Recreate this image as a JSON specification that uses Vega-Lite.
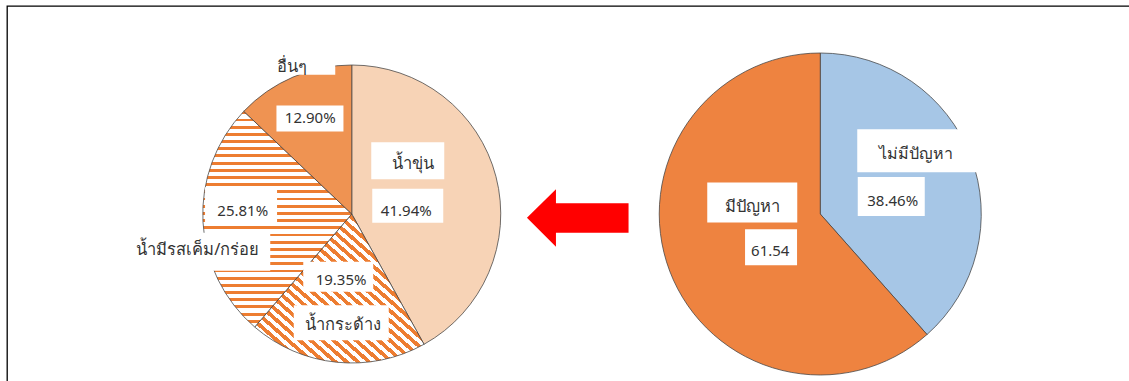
{
"$schema": "https://vega.github.io/schema/vega-lite/v6.json",
"width": 1158, "height": 416,
"autosize": "none",
"padding": {"left": 7, "top": 6, "right": 0, "bottom": 0},
"background": "white",
"config": {"view": {"stroke": "#000000", "strokeWidth": 1.3}},
"datasets": {
 "left": [
  {"chart": "left", "k": 1, "name": "น้ำขุ่น", "value": 41.94, "label": "41.94%"},
  {"chart": "left", "k": 2, "name": "น้ำกระด้าง", "value": 19.35, "label": "19.35%"},
  {"chart": "left", "k": 3, "name": "น้ำมีรสเค็ม/กร่อย", "value": 25.81, "label": "25.81%"},
  {"chart": "left", "k": 4, "name": "อื่นๆ", "value": 12.90, "label": "12.90%"}
 ],
 "right": [
  {"chart": "right", "k": 1, "name": "ไม่มีปัญหา", "value": 38.46, "label": "38.46%"},
  {"chart": "right", "k": 2, "name": "มีปัญหา", "value": 61.54, "label": "61.54"}
 ],
 "arrow": [{"chart": "arrow"}]
},
"layer": [
 {"data": {"name": "left"},
  "mark": {"type": "arc", "radius": 149, "stroke": "#404040", "strokeWidth": 0.75},
  "encoding": {
   "x": {"field": "chart", "type": "nominal", "scale": {"type": "point", "domain": ["left", "arrow", "right"], "range": [344.75, 813.25], "padding": 0}, "axis": null},
   "theta": {"field": "value", "type": "quantitative", "stack": true},
   "order": {"field": "k", "type": "quantitative"},
   "fill": {"condition": [
     {"test": "datum.k===2", "value": {"gradient": "linear", "x1": 0, "y1": 1, "x2": 1, "y2": 0, "stops": [
{"offset":0,"color":"#ed7d31"},{"offset":0.0167,"color":"#ed7d31"},{"offset":0.0167,"color":"#ffffff"},{"offset":0.0333,"color":"#ffffff"},
{"offset":0.0333,"color":"#ed7d31"},{"offset":0.05,"color":"#ed7d31"},{"offset":0.05,"color":"#ffffff"},{"offset":0.0667,"color":"#ffffff"},
{"offset":0.0667,"color":"#ed7d31"},{"offset":0.0833,"color":"#ed7d31"},{"offset":0.0833,"color":"#ffffff"},{"offset":0.1,"color":"#ffffff"},
{"offset":0.1,"color":"#ed7d31"},{"offset":0.1167,"color":"#ed7d31"},{"offset":0.1167,"color":"#ffffff"},{"offset":0.1333,"color":"#ffffff"},
{"offset":0.1333,"color":"#ed7d31"},{"offset":0.15,"color":"#ed7d31"},{"offset":0.15,"color":"#ffffff"},{"offset":0.1667,"color":"#ffffff"},
{"offset":0.1667,"color":"#ed7d31"},{"offset":0.1833,"color":"#ed7d31"},{"offset":0.1833,"color":"#ffffff"},{"offset":0.2,"color":"#ffffff"},
{"offset":0.2,"color":"#ed7d31"},{"offset":0.2167,"color":"#ed7d31"},{"offset":0.2167,"color":"#ffffff"},{"offset":0.2333,"color":"#ffffff"},
{"offset":0.2333,"color":"#ed7d31"},{"offset":0.25,"color":"#ed7d31"},{"offset":0.25,"color":"#ffffff"},{"offset":0.2667,"color":"#ffffff"},
{"offset":0.2667,"color":"#ed7d31"},{"offset":0.2833,"color":"#ed7d31"},{"offset":0.2833,"color":"#ffffff"},{"offset":0.3,"color":"#ffffff"},
{"offset":0.3,"color":"#ed7d31"},{"offset":0.3167,"color":"#ed7d31"},{"offset":0.3167,"color":"#ffffff"},{"offset":0.3333,"color":"#ffffff"},
{"offset":0.3333,"color":"#ed7d31"},{"offset":0.35,"color":"#ed7d31"},{"offset":0.35,"color":"#ffffff"},{"offset":0.3667,"color":"#ffffff"},
{"offset":0.3667,"color":"#ed7d31"},{"offset":0.3833,"color":"#ed7d31"},{"offset":0.3833,"color":"#ffffff"},{"offset":0.4,"color":"#ffffff"},
{"offset":0.4,"color":"#ed7d31"},{"offset":0.4167,"color":"#ed7d31"},{"offset":0.4167,"color":"#ffffff"},{"offset":0.4333,"color":"#ffffff"},
{"offset":0.4333,"color":"#ed7d31"},{"offset":0.45,"color":"#ed7d31"},{"offset":0.45,"color":"#ffffff"},{"offset":0.4667,"color":"#ffffff"},
{"offset":0.4667,"color":"#ed7d31"},{"offset":0.4833,"color":"#ed7d31"},{"offset":0.4833,"color":"#ffffff"},{"offset":0.5,"color":"#ffffff"},
{"offset":0.5,"color":"#ed7d31"},{"offset":0.5167,"color":"#ed7d31"},{"offset":0.5167,"color":"#ffffff"},{"offset":0.5333,"color":"#ffffff"},
{"offset":0.5333,"color":"#ed7d31"},{"offset":0.55,"color":"#ed7d31"},{"offset":0.55,"color":"#ffffff"},{"offset":0.5667,"color":"#ffffff"},
{"offset":0.5667,"color":"#ed7d31"},{"offset":0.5833,"color":"#ed7d31"},{"offset":0.5833,"color":"#ffffff"},{"offset":0.6,"color":"#ffffff"},
{"offset":0.6,"color":"#ed7d31"},{"offset":0.6167,"color":"#ed7d31"},{"offset":0.6167,"color":"#ffffff"},{"offset":0.6333,"color":"#ffffff"},
{"offset":0.6333,"color":"#ed7d31"},{"offset":0.65,"color":"#ed7d31"},{"offset":0.65,"color":"#ffffff"},{"offset":0.6667,"color":"#ffffff"},
{"offset":0.6667,"color":"#ed7d31"},{"offset":0.6833,"color":"#ed7d31"},{"offset":0.6833,"color":"#ffffff"},{"offset":0.7,"color":"#ffffff"},
{"offset":0.7,"color":"#ed7d31"},{"offset":0.7167,"color":"#ed7d31"},{"offset":0.7167,"color":"#ffffff"},{"offset":0.7333,"color":"#ffffff"},
{"offset":0.7333,"color":"#ed7d31"},{"offset":0.75,"color":"#ed7d31"},{"offset":0.75,"color":"#ffffff"},{"offset":0.7667,"color":"#ffffff"},
{"offset":0.7667,"color":"#ed7d31"},{"offset":0.7833,"color":"#ed7d31"},{"offset":0.7833,"color":"#ffffff"},{"offset":0.8,"color":"#ffffff"},
{"offset":0.8,"color":"#ed7d31"},{"offset":0.8167,"color":"#ed7d31"},{"offset":0.8167,"color":"#ffffff"},{"offset":0.8333,"color":"#ffffff"},
{"offset":0.8333,"color":"#ed7d31"},{"offset":0.85,"color":"#ed7d31"},{"offset":0.85,"color":"#ffffff"},{"offset":0.8667,"color":"#ffffff"},
{"offset":0.8667,"color":"#ed7d31"},{"offset":0.8833,"color":"#ed7d31"},{"offset":0.8833,"color":"#ffffff"},{"offset":0.9,"color":"#ffffff"},
{"offset":0.9,"color":"#ed7d31"},{"offset":0.9167,"color":"#ed7d31"},{"offset":0.9167,"color":"#ffffff"},{"offset":0.9333,"color":"#ffffff"},
{"offset":0.9333,"color":"#ed7d31"},{"offset":0.95,"color":"#ed7d31"},{"offset":0.95,"color":"#ffffff"},{"offset":0.9667,"color":"#ffffff"},
{"offset":0.9667,"color":"#ed7d31"},{"offset":0.9833,"color":"#ed7d31"},{"offset":0.9833,"color":"#ffffff"},{"offset":1,"color":"#ffffff"}
     ]}},
     {"test": "datum.k===3", "value": {"gradient": "linear", "x1": 0, "y1": 0, "x2": 0, "y2": 1, "stops": [
{"offset":0,"color":"#ed7d31"},{"offset":0.0133,"color":"#ed7d31"},{"offset":0.0133,"color":"#ffffff"},{"offset":0.0333,"color":"#ffffff"},
{"offset":0.0333,"color":"#ed7d31"},{"offset":0.0467,"color":"#ed7d31"},{"offset":0.0467,"color":"#ffffff"},{"offset":0.0667,"color":"#ffffff"},
{"offset":0.0667,"color":"#ed7d31"},{"offset":0.08,"color":"#ed7d31"},{"offset":0.08,"color":"#ffffff"},{"offset":0.1,"color":"#ffffff"},
{"offset":0.1,"color":"#ed7d31"},{"offset":0.1133,"color":"#ed7d31"},{"offset":0.1133,"color":"#ffffff"},{"offset":0.1333,"color":"#ffffff"},
{"offset":0.1333,"color":"#ed7d31"},{"offset":0.1467,"color":"#ed7d31"},{"offset":0.1467,"color":"#ffffff"},{"offset":0.1667,"color":"#ffffff"},
{"offset":0.1667,"color":"#ed7d31"},{"offset":0.18,"color":"#ed7d31"},{"offset":0.18,"color":"#ffffff"},{"offset":0.2,"color":"#ffffff"},
{"offset":0.2,"color":"#ed7d31"},{"offset":0.2133,"color":"#ed7d31"},{"offset":0.2133,"color":"#ffffff"},{"offset":0.2333,"color":"#ffffff"},
{"offset":0.2333,"color":"#ed7d31"},{"offset":0.2467,"color":"#ed7d31"},{"offset":0.2467,"color":"#ffffff"},{"offset":0.2667,"color":"#ffffff"},
{"offset":0.2667,"color":"#ed7d31"},{"offset":0.28,"color":"#ed7d31"},{"offset":0.28,"color":"#ffffff"},{"offset":0.3,"color":"#ffffff"},
{"offset":0.3,"color":"#ed7d31"},{"offset":0.3133,"color":"#ed7d31"},{"offset":0.3133,"color":"#ffffff"},{"offset":0.3333,"color":"#ffffff"},
{"offset":0.3333,"color":"#ed7d31"},{"offset":0.3467,"color":"#ed7d31"},{"offset":0.3467,"color":"#ffffff"},{"offset":0.3667,"color":"#ffffff"},
{"offset":0.3667,"color":"#ed7d31"},{"offset":0.38,"color":"#ed7d31"},{"offset":0.38,"color":"#ffffff"},{"offset":0.4,"color":"#ffffff"},
{"offset":0.4,"color":"#ed7d31"},{"offset":0.4133,"color":"#ed7d31"},{"offset":0.4133,"color":"#ffffff"},{"offset":0.4333,"color":"#ffffff"},
{"offset":0.4333,"color":"#ed7d31"},{"offset":0.4467,"color":"#ed7d31"},{"offset":0.4467,"color":"#ffffff"},{"offset":0.4667,"color":"#ffffff"},
{"offset":0.4667,"color":"#ed7d31"},{"offset":0.48,"color":"#ed7d31"},{"offset":0.48,"color":"#ffffff"},{"offset":0.5,"color":"#ffffff"},
{"offset":0.5,"color":"#ed7d31"},{"offset":0.5133,"color":"#ed7d31"},{"offset":0.5133,"color":"#ffffff"},{"offset":0.5333,"color":"#ffffff"},
{"offset":0.5333,"color":"#ed7d31"},{"offset":0.5467,"color":"#ed7d31"},{"offset":0.5467,"color":"#ffffff"},{"offset":0.5667,"color":"#ffffff"},
{"offset":0.5667,"color":"#ed7d31"},{"offset":0.58,"color":"#ed7d31"},{"offset":0.58,"color":"#ffffff"},{"offset":0.6,"color":"#ffffff"},
{"offset":0.6,"color":"#ed7d31"},{"offset":0.6133,"color":"#ed7d31"},{"offset":0.6133,"color":"#ffffff"},{"offset":0.6333,"color":"#ffffff"},
{"offset":0.6333,"color":"#ed7d31"},{"offset":0.6467,"color":"#ed7d31"},{"offset":0.6467,"color":"#ffffff"},{"offset":0.6667,"color":"#ffffff"},
{"offset":0.6667,"color":"#ed7d31"},{"offset":0.68,"color":"#ed7d31"},{"offset":0.68,"color":"#ffffff"},{"offset":0.7,"color":"#ffffff"},
{"offset":0.7,"color":"#ed7d31"},{"offset":0.7133,"color":"#ed7d31"},{"offset":0.7133,"color":"#ffffff"},{"offset":0.7333,"color":"#ffffff"},
{"offset":0.7333,"color":"#ed7d31"},{"offset":0.7467,"color":"#ed7d31"},{"offset":0.7467,"color":"#ffffff"},{"offset":0.7667,"color":"#ffffff"},
{"offset":0.7667,"color":"#ed7d31"},{"offset":0.78,"color":"#ed7d31"},{"offset":0.78,"color":"#ffffff"},{"offset":0.8,"color":"#ffffff"},
{"offset":0.8,"color":"#ed7d31"},{"offset":0.8133,"color":"#ed7d31"},{"offset":0.8133,"color":"#ffffff"},{"offset":0.8333,"color":"#ffffff"},
{"offset":0.8333,"color":"#ed7d31"},{"offset":0.8467,"color":"#ed7d31"},{"offset":0.8467,"color":"#ffffff"},{"offset":0.8667,"color":"#ffffff"},
{"offset":0.8667,"color":"#ed7d31"},{"offset":0.88,"color":"#ed7d31"},{"offset":0.88,"color":"#ffffff"},{"offset":0.9,"color":"#ffffff"},
{"offset":0.9,"color":"#ed7d31"},{"offset":0.9133,"color":"#ed7d31"},{"offset":0.9133,"color":"#ffffff"},{"offset":0.9333,"color":"#ffffff"},
{"offset":0.9333,"color":"#ed7d31"},{"offset":0.9467,"color":"#ed7d31"},{"offset":0.9467,"color":"#ffffff"},{"offset":0.9667,"color":"#ffffff"},
{"offset":0.9667,"color":"#ed7d31"},{"offset":0.98,"color":"#ed7d31"},{"offset":0.98,"color":"#ffffff"},{"offset":1,"color":"#ffffff"}
     ]}}
    ],
    "field": "name", "type": "nominal",
    "scale": {"domain": ["น้ำขุ่น", "น้ำกระด้าง", "น้ำมีรสเค็ม/กร่อย", "อื่นๆ", "ไม่มีปัญหา", "มีปัญหา"], "range": ["#f7d3b6", "#f3a46c", "#f09a5c", "#ef9352", "#a6c6e6", "#ee8340"]},
    "legend": null}
  }
 },
 {"data": {"name": "right"},
  "mark": {"type": "arc", "radius": 161, "stroke": "#404040", "strokeWidth": 0.75},
  "encoding": {
   "x": {"field": "chart", "type": "nominal", "scale": {"type": "point", "domain": ["left", "arrow", "right"], "range": [344.75, 813.25], "padding": 0}, "axis": null},
   "theta": {"field": "value", "type": "quantitative", "stack": true},
   "order": {"field": "k", "type": "quantitative"},
   "fill": {"field": "name", "type": "nominal",
    "scale": {"domain": ["น้ำขุ่น", "น้ำกระด้าง", "น้ำมีรสเค็ม/กร่อย", "อื่นๆ", "ไม่มีปัญหา", "มีปัญหา"], "range": ["#f7d3b6", "#f3a46c", "#f09a5c", "#ef9352", "#a6c6e6", "#ee8340"]},
    "legend": null}
  }
 },

 {"data": {"name": "left"}, "transform": [{"filter": "datum.k===1"}], "mark": {"type": "point", "shape": "M-1,-0.507H1V0.507H-1Z", "size": 5329, "filled": true, "color": "#ffffff", "opacity": 1, "strokeWidth": 0, "xOffset": 56, "yOffset": -53.3},
  "encoding": {"x": {"field": "chart", "type": "nominal", "scale": {"type": "point", "domain": ["left", "arrow", "right"], "range": [344.75, 813.25], "padding": 0}, "axis": null}}},
 {"data": {"name": "left"}, "transform": [{"filter": "datum.k===1"}], "mark": {"type": "point", "shape": "M-1,-0.479H1V0.479H-1Z", "size": 5041, "filled": true, "color": "#ffffff", "opacity": 1, "strokeWidth": 0, "xOffset": 56, "yOffset": -8.3},
  "encoding": {"x": {"field": "chart", "type": "nominal", "scale": {"type": "point", "domain": ["left", "arrow", "right"], "range": [344.75, 813.25], "padding": 0}, "axis": null}}},
 {"data": {"name": "left"}, "transform": [{"filter": "datum.k===2"}], "mark": {"type": "point", "shape": "M-1,-0.4286H1V0.4286H-1Z", "size": 4900, "filled": true, "color": "#ffffff", "opacity": 1, "strokeWidth": 0, "xOffset": -13.5, "yOffset": 62.7},
  "encoding": {"x": {"field": "chart", "type": "nominal", "scale": {"type": "point", "domain": ["left", "arrow", "right"], "range": [344.75, 813.25], "padding": 0}, "axis": null}}},
 {"data": {"name": "left"}, "transform": [{"filter": "datum.k===2"}], "mark": {"type": "point", "shape": "M-1,-0.3684H1V0.3684H-1Z", "size": 9025, "filled": true, "color": "#ffffff", "opacity": 1, "strokeWidth": 0, "xOffset": -10.5, "yOffset": 108.7},
  "encoding": {"x": {"field": "chart", "type": "nominal", "scale": {"type": "point", "domain": ["left", "arrow", "right"], "range": [344.75, 813.25], "padding": 0}, "axis": null}}},
 {"data": {"name": "left"}, "transform": [{"filter": "datum.k===3"}], "mark": {"type": "point", "shape": "M-1,-0.5139H1V0.5139H-1Z", "size": 5184, "filled": true, "color": "#ffffff", "opacity": 1, "strokeWidth": 0, "xOffset": -110.7, "yOffset": -8.3},
  "encoding": {"x": {"field": "chart", "type": "nominal", "scale": {"type": "point", "domain": ["left", "arrow", "right"], "range": [344.75, 813.25], "padding": 0}, "axis": null}}},
 {"data": {"name": "left"}, "transform": [{"filter": "datum.k===3"}], "mark": {"type": "point", "shape": "M-1,-0.2714H1V0.2714H-1Z", "size": 19600, "filled": true, "color": "#ffffff", "opacity": 1, "strokeWidth": 0, "xOffset": -151.5, "yOffset": 37.7},
  "encoding": {"x": {"field": "chart", "type": "nominal", "scale": {"type": "point", "domain": ["left", "arrow", "right"], "range": [344.75, 813.25], "padding": 0}, "axis": null}}},
 {"data": {"name": "left"}, "transform": [{"filter": "datum.k===4"}], "mark": {"type": "point", "shape": "M-1,-0.3881H1V0.3881H-1Z", "size": 4489, "filled": true, "color": "#ffffff", "opacity": 1, "strokeWidth": 0, "xOffset": -41.8, "yOffset": -95.5},
  "encoding": {"x": {"field": "chart", "type": "nominal", "scale": {"type": "point", "domain": ["left", "arrow", "right"], "range": [344.75, 813.25], "padding": 0}, "axis": null}}},
 {"data": {"name": "left"}, "transform": [{"filter": "datum.k===4"}], "mark": {"type": "point", "shape": "M-1,-0.4462H1V0.4462H-1Z", "size": 4225, "filled": true, "color": "#ffffff", "opacity": 1, "strokeWidth": 0, "xOffset": -49, "yOffset": -153.8},
  "encoding": {"x": {"field": "chart", "type": "nominal", "scale": {"type": "point", "domain": ["left", "arrow", "right"], "range": [344.75, 813.25], "padding": 0}, "axis": null}}},
 {"data": {"name": "right"}, "transform": [{"filter": "datum.k===1"}], "mark": {"type": "point", "shape": "M-1,-0.3525H1V0.3525H-1Z", "size": 14884, "filled": true, "color": "#ffffff", "opacity": 1, "strokeWidth": 0, "xOffset": 98, "yOffset": -63.3},
  "encoding": {"x": {"field": "chart", "type": "nominal", "scale": {"type": "point", "domain": ["left", "arrow", "right"], "range": [344.75, 813.25], "padding": 0}, "axis": null}}},
 {"data": {"name": "right"}, "transform": [{"filter": "datum.k===1"}], "mark": {"type": "point", "shape": "M-1,-0.5821H1V0.5821H-1Z", "size": 4489, "filled": true, "color": "#ffffff", "opacity": 1, "strokeWidth": 0, "xOffset": 71, "yOffset": -17.5},
  "encoding": {"x": {"field": "chart", "type": "nominal", "scale": {"type": "point", "domain": ["left", "arrow", "right"], "range": [344.75, 813.25], "padding": 0}, "axis": null}}},
 {"data": {"name": "right"}, "transform": [{"filter": "datum.k===2"}], "mark": {"type": "point", "shape": "M-1,-0.4444H1V0.4444H-1Z", "size": 8100, "filled": true, "color": "#ffffff", "opacity": 1, "strokeWidth": 0, "xOffset": -68, "yOffset": -11.5},
  "encoding": {"x": {"field": "chart", "type": "nominal", "scale": {"type": "point", "domain": ["left", "arrow", "right"], "range": [344.75, 813.25], "padding": 0}, "axis": null}}},
 {"data": {"name": "right"}, "transform": [{"filter": "datum.k===2"}], "mark": {"type": "point", "shape": "M-1,-0.6923H1V0.6923H-1Z", "size": 2704, "filled": true, "color": "#ffffff", "opacity": 1, "strokeWidth": 0, "xOffset": -49.2, "yOffset": 33.3},
  "encoding": {"x": {"field": "chart", "type": "nominal", "scale": {"type": "point", "domain": ["left", "arrow", "right"], "range": [344.75, 813.25], "padding": 0}, "axis": null}}},

 {"data": {"name": "left"}, "mark": {"type": "text", "radius": 65, "dx": -2, "dy": -34, "fontSize": 16.5, "font": "Noto Sans", "color": "#333333"},
  "encoding": {"x": {"field": "chart", "type": "nominal", "scale": {"type": "point", "domain": ["left", "arrow", "right"], "range": [344.75, 813.25], "padding": 0}, "axis": null}, "theta": {"field": "value", "type": "quantitative", "stack": true}, "order": {"field": "k", "type": "quantitative"}, "detail": {"field": "name", "type": "nominal"},
   "text": {"condition": {"test": "datum.k===1", "field": "name"}, "value": ""}}},
 {"data": {"name": "left"}, "mark": {"type": "text", "radius": 65, "dx": -8.4, "dy": 13, "fontSize": 15, "font": "Noto Sans", "color": "#333333"},
  "encoding": {"x": {"field": "chart", "type": "nominal", "scale": {"type": "point", "domain": ["left", "arrow", "right"], "range": [344.75, 813.25], "padding": 0}, "axis": null}, "theta": {"field": "value", "type": "quantitative", "stack": true}, "order": {"field": "k", "type": "quantitative"}, "detail": {"field": "name", "type": "nominal"},
   "text": {"condition": {"test": "datum.k===1", "field": "label"}, "value": ""}}},
 {"data": {"name": "left"}, "mark": {"type": "text", "radius": 88, "dx": -1.8, "dy": -21.9, "fontSize": 15, "font": "Noto Sans", "color": "#333333"},
  "encoding": {"x": {"field": "chart", "type": "nominal", "scale": {"type": "point", "domain": ["left", "arrow", "right"], "range": [344.75, 813.25], "padding": 0}, "axis": null}, "theta": {"field": "value", "type": "quantitative", "stack": true}, "order": {"field": "k", "type": "quantitative"}, "detail": {"field": "name", "type": "nominal"},
   "text": {"condition": {"test": "datum.k===2", "field": "label"}, "value": ""}}},
 {"data": {"name": "left"}, "mark": {"type": "text", "radius": 88, "dx": -0.1, "dy": 23.2, "fontSize": 16.5, "font": "Noto Sans", "color": "#333333"},
  "encoding": {"x": {"field": "chart", "type": "nominal", "scale": {"type": "point", "domain": ["left", "arrow", "right"], "range": [344.75, 813.25], "padding": 0}, "axis": null}, "theta": {"field": "value", "type": "quantitative", "stack": true}, "order": {"field": "k", "type": "quantitative"}, "detail": {"field": "name", "type": "nominal"},
   "text": {"condition": {"test": "datum.k===2", "field": "name"}, "value": ""}}},
 {"data": {"name": "left"}, "mark": {"type": "text", "radius": 130, "dx": 20.8, "dy": -9.9, "fontSize": 15, "font": "Noto Sans", "color": "#333333"},
  "encoding": {"x": {"field": "chart", "type": "nominal", "scale": {"type": "point", "domain": ["left", "arrow", "right"], "range": [344.75, 813.25], "padding": 0}, "axis": null}, "theta": {"field": "value", "type": "quantitative", "stack": true}, "order": {"field": "k", "type": "quantitative"}, "detail": {"field": "name", "type": "nominal"},
   "text": {"condition": {"test": "datum.k===3", "field": "label"}, "value": ""}}},
 {"data": {"name": "left"}, "mark": {"type": "text", "radius": 130, "dx": -24.2, "dy": 29.1, "fontSize": 16.5, "font": "Noto Sans", "color": "#333333"},
  "encoding": {"x": {"field": "chart", "type": "nominal", "scale": {"type": "point", "domain": ["left", "arrow", "right"], "range": [344.75, 813.25], "padding": 0}, "axis": null}, "theta": {"field": "value", "type": "quantitative", "stack": true}, "order": {"field": "k", "type": "quantitative"}, "detail": {"field": "name", "type": "nominal"},
   "text": {"condition": {"test": "datum.k===3", "field": "name"}, "value": ""}}},
 {"data": {"name": "left"}, "mark": {"type": "text", "radius": 120, "dx": 5.8, "dy": 14.5, "fontSize": 15, "font": "Noto Sans", "color": "#333333"},
  "encoding": {"x": {"field": "chart", "type": "nominal", "scale": {"type": "point", "domain": ["left", "arrow", "right"], "range": [344.75, 813.25], "padding": 0}, "axis": null}, "theta": {"field": "value", "type": "quantitative", "stack": true}, "order": {"field": "k", "type": "quantitative"}, "detail": {"field": "name", "type": "nominal"},
   "text": {"condition": {"test": "datum.k===4", "field": "label"}, "value": ""}}},
 {"data": {"name": "left"}, "mark": {"type": "text", "radius": 120, "dx": -12.5, "dy": -37, "fontSize": 16.5, "font": "Noto Sans", "color": "#333333"},
  "encoding": {"x": {"field": "chart", "type": "nominal", "scale": {"type": "point", "domain": ["left", "arrow", "right"], "range": [344.75, 813.25], "padding": 0}, "axis": null}, "theta": {"field": "value", "type": "quantitative", "stack": true}, "order": {"field": "k", "type": "quantitative"}, "detail": {"field": "name", "type": "nominal"},
   "text": {"condition": {"test": "datum.k===4", "field": "name"}, "value": ""}}},

 {"data": {"name": "right"}, "mark": {"type": "text", "radius": 90, "dx": 11.9, "dy": -28.1, "fontSize": 16, "font": "Noto Sans", "color": "#333333"},
  "encoding": {"x": {"field": "chart", "type": "nominal", "scale": {"type": "point", "domain": ["left", "arrow", "right"], "range": [344.75, 813.25], "padding": 0}, "axis": null}, "theta": {"field": "value", "type": "quantitative", "stack": true}, "order": {"field": "k", "type": "quantitative"}, "detail": {"field": "name", "type": "nominal"},
   "text": {"condition": {"test": "datum.k===1", "field": "name"}, "value": ""}}},
 {"data": {"name": "right"}, "mark": {"type": "text", "radius": 90, "dx": -11.7, "dy": 19.4, "fontSize": 15, "font": "Noto Sans", "color": "#333333"},
  "encoding": {"x": {"field": "chart", "type": "nominal", "scale": {"type": "point", "domain": ["left", "arrow", "right"], "range": [344.75, 813.25], "padding": 0}, "axis": null}, "theta": {"field": "value", "type": "quantitative", "stack": true}, "order": {"field": "k", "type": "quantitative"}, "detail": {"field": "name", "type": "nominal"},
   "text": {"condition": {"test": "datum.k===1", "field": "label"}, "value": ""}}},
 {"data": {"name": "right"}, "mark": {"type": "text", "radius": 65, "dx": -7.2, "dy": -30, "fontSize": 16.5, "font": "Noto Sans", "color": "#333333"},
  "encoding": {"x": {"field": "chart", "type": "nominal", "scale": {"type": "point", "domain": ["left", "arrow", "right"], "range": [344.75, 813.25], "padding": 0}, "axis": null}, "theta": {"field": "value", "type": "quantitative", "stack": true}, "order": {"field": "k", "type": "quantitative"}, "detail": {"field": "name", "type": "nominal"},
   "text": {"condition": {"test": "datum.k===2", "field": "name"}, "value": ""}}},
 {"data": {"name": "right"}, "mark": {"type": "text", "radius": 65, "dx": 10.8, "dy": 13.7, "fontSize": 15, "font": "Noto Sans", "color": "#333333"},
  "encoding": {"x": {"field": "chart", "type": "nominal", "scale": {"type": "point", "domain": ["left", "arrow", "right"], "range": [344.75, 813.25], "padding": 0}, "axis": null}, "theta": {"field": "value", "type": "quantitative", "stack": true}, "order": {"field": "k", "type": "quantitative"}, "detail": {"field": "name", "type": "nominal"},
   "text": {"condition": {"test": "datum.k===2", "field": "label"}, "value": ""}}},

 {"data": {"name": "arrow"},
  "mark": {"type": "point", "shape": "M-1.181,0.074L-0.601,-0.494L-0.601,-0.214L0.851,-0.214L0.851,0.374L-0.601,0.374L-0.601,0.654Z", "size": 10000, "filled": true, "color": "#ff0000", "opacity": 1, "strokeWidth": 0},
  "encoding": {"x": {"field": "chart", "type": "nominal", "scale": {"type": "point", "domain": ["left", "arrow", "right"], "range": [344.75, 813.25], "padding": 0}, "axis": null}}
 }
]
}
